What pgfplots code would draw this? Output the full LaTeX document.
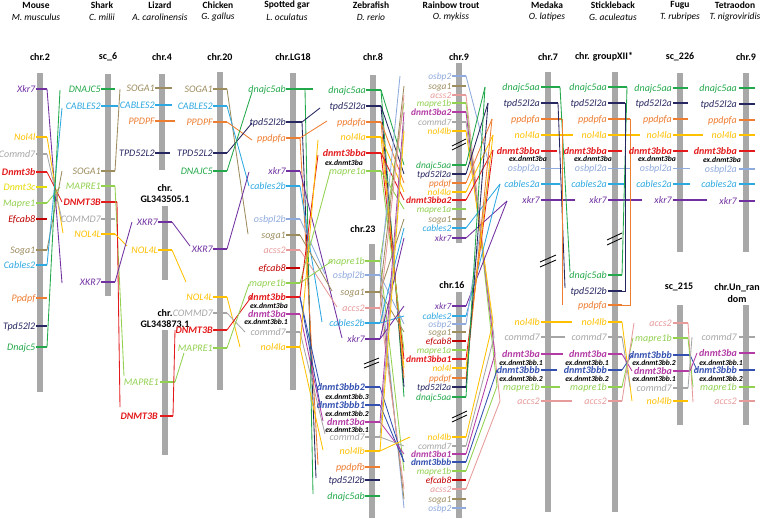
\documentclass[border=0pt]{standalone}
\usepackage{fontspec}
\setmainfont{Carlito}
\usepackage{pgfplots}
\pgfplotsset{compat=1.18}
\definecolor{cXkr}{HTML}{7030A0}
\definecolor{cNol}{HTML}{FFC000}
\definecolor{cCom}{HTML}{A6A6A6}
\definecolor{cDnb}{HTML}{E31A1C}
\definecolor{cDnc}{HTML}{E6DC00}
\definecolor{cMap}{HTML}{92D050}
\definecolor{cEfc}{HTML}{C00000}
\definecolor{cSog}{HTML}{9C8C5E}
\definecolor{cCab}{HTML}{2EA8E0}
\definecolor{cPpd}{HTML}{ED7D31}
\definecolor{cTpd}{HTML}{262660}
\definecolor{cDnj}{HTML}{22A84A}
\definecolor{cOsb}{HTML}{8FAADC}
\definecolor{cAcs}{HTML}{E79A9A}
\definecolor{cDna}{HTML}{B33BA5}
\definecolor{cDnbbb}{HTML}{3350B0}
\definecolor{cBar}{HTML}{A8A8A8}
\newcommand{\gfnt}{\fontsize{10bp}{11bp}\selectfont\itshape}
\newcommand{\gbfnt}{\fontsize{10bp}{11bp}\selectfont\bfseries\itshape}
\newcommand{\tfnt}{\fontsize{9.4bp}{10bp}\selectfont\itshape}
\newcommand{\tbfnt}{\fontsize{9.4bp}{10bp}\selectfont\bfseries\itshape}
\newcommand{\efnt}{\fontsize{7.6bp}{8.5bp}\selectfont\bfseries\itshape}
\newcommand{\hfnt}{\fontsize{9.5bp}{11bp}\selectfont\bfseries}
\newcommand{\spfnt}{\fontsize{9.5bp}{11bp}\selectfont\itshape}
\newcommand{\cfnt}{\fontsize{10bp}{11bp}\selectfont\bfseries}
\pgfplotsset{tk/.style={line width=1.1bp,no markers},cn/.style={line width=0.85bp,no markers}}
\newcommand{\gene}[6]{\addplot[#1,tk] coordinates {(#4,#3) (#5,#3)};
 \node[anchor=base east,inner sep=0pt,yshift=-3.3bp,text=#1,font=\gfnt] at (axis cs:#2,#3) {#6};}
\newcommand{\geneb}[6]{\addplot[#1,tk] coordinates {(#4,#3) (#5,#3)};
 \node[anchor=base east,inner sep=0pt,yshift=-3.3bp,text=#1,font=\gbfnt] at (axis cs:#2,#3) {#6};}
\newcommand{\tgene}[3]{\addplot[#1,tk] coordinates {(452,#2) (466,#2)};
 \node[anchor=base east,inner sep=0pt,yshift=-3.1bp,text=#1,font=\tfnt] at (axis cs:451.5,#2) {#3};}
\newcommand{\tgeneb}[3]{\addplot[#1,tk] coordinates {(452,#2) (466,#2)};
 \node[anchor=base east,inner sep=0pt,yshift=-3.1bp,text=#1,font=\tbfnt] at (axis cs:451.5,#2) {#3};}
\newcommand{\conn}[2]{\addplot[#1,cn] coordinates {#2};}
\newcommand{\exl}[3]{\node[anchor=base east,inner sep=0pt,yshift=-2.6bp,font=\efnt] at (axis cs:#1,#2) {#3};}
\newcommand{\chrbar}[3]{\addplot[cBar,line width=6bp,no markers] coordinates {(#1,#2) (#1,#3)};}
\newcommand{\hdr}[3]{\node[font=\hfnt] at (axis cs:#1,5) {#2}; \node[font=\spfnt] at (axis cs:#1,17) {#3};}
\newcommand{\chrn}[3]{\node[font=\cfnt] at (axis cs:#1,#2) {#3};}
\begin{document}
\begin{tikzpicture}
\begin{axis}[at={(0,0)},anchor=south west,scale only axis,width=760bp,height=518bp,
  xmin=0,xmax=760,ymin=0,ymax=518,y dir=reverse,hide axis,clip=false]
\coordinate (SW) at (axis cs:0,518);
\coordinate (NE) at (axis cs:760,0);
% headers
\hdr{36}{Mouse}{M. musculus}
\hdr{102}{Shark}{C. milii}
\hdr{160}{Lizard}{A. carolinensis}
\hdr{218}{Chicken}{G. gallus}
\hdr{287}{Spotted gar}{L. oculatus}
\hdr{371}{Zebrafish}{D. rerio}
\hdr{451}{Rainbow trout}{O. mykiss}
\hdr{547}{Medaka}{O. latipes}
\hdr{613}{Stickleback}{G. aculeatus}
\hdr{680}{Fugu}{T. rubripes}
\hdr{735}{Tetraodon}{T. nigroviridis}
% chromosome names
\chrn{40}{57}{chr.2}
\chrn{108}{57}{sc\_6}
\chrn{162}{57}{chr.4}
\chrn{220}{57}{chr.20}
\chrn{293}{57}{chr.LG18}
\chrn{373}{57}{chr.8}
\chrn{459}{57}{chr.9}
\chrn{548}{57}{chr.7}
\chrn{604}{57}{chr. groupXII*}
\chrn{680}{57}{sc\_226}
\chrn{746}{57}{chr.9}
\chrn{165}{188}{chr.}
\chrn{165}{199}{GL343505.1}
\chrn{165}{313}{chr.}
\chrn{165}{324}{GL343873.1}
\chrn{363}{229}{chr.23}
\chrn{452}{285}{chr.16}
\chrn{679}{287}{sc\_215}
\chrn{737}{288}{chr.Un\_ran}
\chrn{737}{299}{dom}
% bars
\chrbar{40}{73}{392}
\chrbar{108}{74}{296}
\chrbar{162}{74}{170}
\chrbar{165}{206}{280}
\chrbar{165}{330}{455}
\chrbar{220}{72}{390}
\chrbar{293}{73}{390}
\chrbar{373}{75}{200}
\chrbar{372}{244}{518}
\chrbar{459}{63}{243}
\chrbar{459}{292}{518}
\chrbar{548}{72}{512}
\chrbar{615}{72}{512}
\chrbar{680}{73}{252}
\chrbar{680}{305}{425}
\chrbar{746}{73}{252}
\chrbar{746}{305}{425}
% ===== Mouse
\gene{cXkr}{35.5}{89}{36}{47}{Xkr7}
\gene{cNol}{35.5}{137}{36}{47}{Nol4l}
\gene{cCom}{35.5}{154}{36}{47}{Commd7}
\geneb{cDnb}{35.5}{172}{36}{47}{Dnmt3b}
\gene{cDnc}{35.5}{187}{36}{47}{Dnmt3c}
\gene{cMap}{35.5}{203}{36}{47}{Mapre1}
\gene{cEfc}{35.5}{219}{36}{47}{Efcab8}
\gene{cSog}{35.5}{250}{36}{47}{Soga1}
\gene{cCab}{35.5}{265}{36}{47}{Cables2}
\gene{cPpd}{35.5}{298}{36}{47}{Ppdpf}
\gene{cTpd}{35.5}{326}{36}{47}{Tpd52l2}
\gene{cDnj}{35.5}{347}{36}{47}{Dnajc5}
\conn{cXkr}{(47,89) (62,283)}
\conn{cNol}{(47,137) (63,233)}
\conn{cCom}{(47,154) (62,220)}
\conn{cDnb}{(47,172) (62,202)}
\conn{cMap}{(47,203) (60,187)}
\conn{cSog}{(47,250) (62,171)}
\conn{cCab}{(47,265) (62,108)}
\conn{cDnj}{(47,347) (60,90)}
% ===== Shark
\gene{cDnj}{101}{89}{101}{115}{DNAJC5}
\gene{cCab}{101}{106}{101}{118}{CABLES2}
\gene{cSog}{101}{171}{101}{115}{SOGA1}
\gene{cMap}{101}{186}{101}{115}{MAPRE1}
\geneb{cDnb}{101}{202}{101}{117}{DNMT3B}
\gene{cCom}{101}{219}{101}{115}{COMMD7}
\gene{cNol}{101}{234}{101}{115}{NOL4L}
\gene{cXkr}{101}{282}{101}{115}{XKR7}
\conn{cSog}{(115,171) (120,89)}
\conn{cMap}{(115,186) (124,376)}
\conn{cDnb}{(117,202) (120,407)}
\conn{cNol}{(115,234) (127,246)}
\conn{cXkr}{(115,282) (132,222)}
% ===== Lizard
\gene{cSog}{155}{88}{155}{172}{SOGA1}
\gene{cCab}{155}{105}{155}{172}{CABLES2}
\gene{cPpd}{155}{121}{155}{175}{PPDPF}
\gene{cTpd}{155}{153}{155}{170}{TPD52L2}
\gene{cXkr}{158}{222}{158}{172}{XKR7}
\gene{cNol}{158}{250}{158}{172}{NOL4L}
\conn{cXkr}{(172,222) (190,246)}
\conn{cNol}{(172,250) (186,282)}
\gene{cMap}{159}{382}{160}{175}{MAPRE1}
\geneb{cDnb}{158}{416}{160}{173}{DNMT3B}
\conn{cMap}{(175,382) (184,353)}
\conn{cDnb}{(173,416) (175,330)}
% ===== Chicken
\gene{cSog}{213}{89}{213}{227}{SOGA1}
\gene{cCab}{213}{106}{213}{227}{CABLES2}
\gene{cPpd}{213}{122}{213}{227}{PPDPF}
\gene{cTpd}{213}{153}{213}{227}{TPD52L2}
\gene{cDnj}{213}{171}{213}{227}{DNAJC5}
\gene{cXkr}{213}{249}{213}{227}{XKR7}
\gene{cNol}{213}{297}{213}{227}{NOL4L}
\gene{cCom}{213}{313}{213}{227}{COMMD7}
\geneb{cDnb}{213}{330}{213}{227}{DNMT3B}
\gene{cMap}{213}{348}{213}{227}{MAPRE1}
\conn{cSog}{(227,89) (248,234)}
\conn{cCab}{(227,106) (249,186)}
\conn{cPpd}{(227,122) (252,140)}
\conn{cTpd}{(227,153) (252,123)}
\conn{cDnj}{(227,171) (252,92)}
\conn{cXkr}{(227,249) (249,172)}
\conn{cNol}{(227,297) (240,347)}
\conn{cCom}{(227,313) (245,332)}
\conn{cDnb}{(227,330) (252,296)}
\conn{cMap}{(227,348) (249,284)}
% ===== Spotted gar
\gene{cDnj}{286}{89}{286}{313}{dnajc5ab}
\gene{cTpd}{286}{122}{286}{302}{tpd52l2b}
\gene{cPpd}{286}{138}{286}{300}{ppdpfa}
\gene{cXkr}{286}{171}{286}{300}{xkr7}
\gene{cCab}{286}{186}{286}{300}{cables2b}
\gene{cOsb}{286}{219}{286}{300}{osbpl2b}
\gene{cSog}{286}{235}{286}{300}{soga1}
\gene{cAcs}{286}{250}{286}{300}{acss2}
\gene{cEfc}{286}{268}{286}{300}{efcab8}
\gene{cMap}{286}{283}{286}{300}{mapre1b}
\geneb{cDnb}{286}{297}{286}{300}{dnmt3bb}
\exl{288}{306}{ex.dnmt3ba}
\geneb{cDna}{286}{314}{286}{300}{dnmt3ba}
\exl{288}{322}{ex.dnmt3bb.1}
\gene{cCom}{286}{332}{286}{300}{commd7}
\gene{cNol}{286}{347}{286}{300}{nol4la}
\conn{cDnj}{(305,89) (313,494)}
\conn{cTpd}{(302,122) (320,108)}
\conn{cTpd}{(302,122) (316,478)}
\conn{cPpd}{(300,138) (327,121)}
\conn{cPpd}{(300,138) (318,465)}
\conn{cXkr}{(300,171) (342,338)}
\conn{cCab}{(300,186) (322,322)}
\conn{cOsb}{(300,219) (325,274)}
\conn{cSog}{(300,235) (332,291)}
\conn{cAcs}{(300,250) (337,307)}
\conn{cMap}{(300,283) (330,172)}
\conn{cMap}{(300,283) (332,261)}
\conn{cDnb}{(300,297) (318,155)}
\conn{cDnbbb}{(300,297) (320,386)}
\conn{cDnbbb}{(300,297) (320,404)}
\conn{cDna}{(300,314) (323,421)}
\conn{cCom}{(300,332) (325,434)}
\conn{cNol}{(300,347) (318,140)}
\conn{cNol}{(300,347) (323,450)}
% ===== Zebrafish chr.8
\gene{cDnj}{366}{90}{366}{381}{dnajc5aa}
\gene{cTpd}{366}{106}{366}{381}{tpd52l2a}
\gene{cPpd}{366}{122}{366}{381}{ppdpfa}
\gene{cNol}{366}{137}{366}{381}{nol4la}
\geneb{cDnb}{366}{153}{366}{381}{dnmt3bba}
\exl{363}{163}{ex.dnmt3ba}
\gene{cMap}{366}{171}{366}{381}{mapre1a}
% ===== Zebrafish chr.23
\gene{cMap}{365}{261}{365}{380}{mapre1b}
\gene{cOsb}{365}{275}{365}{380}{osbpl2b}
\gene{cSog}{365}{292}{365}{380}{soga1}
\gene{cAcs}{365}{308}{365}{380}{accs2}
\gene{cCab}{365}{323}{365}{380}{cables2b}
\gene{cXkr}{365}{339}{365}{380}{xkr7}
\geneb{cDnbbb}{365}{387}{365}{380}{dnmt3bbb2}
\exl{369}{397}{ex.dnmt3bb.3}
\geneb{cDnbbb}{365}{405}{365}{380}{dnmt3bbb1}
\exl{369}{414}{ex.dnmt3bb.2}
\geneb{cDna}{365}{422}{365}{380}{dnmt3ba}
\exl{369}{430}{ex.dnmt3bb.1}
\gene{cCom}{365}{437}{365}{380}{commd7}
\gene{cNol}{365}{451}{365}{380}{nol4lb}
\gene{cPpd}{365}{467}{365}{380}{ppdpfb}
\gene{cTpd}{365}{480}{365}{380}{tpd52l2b}
\gene{cDnj}{365}{496}{365}{380}{dnajc5ab}
% zebrafish -> trout
\conn{cDnj}{(381,90) (404,165)}
\conn{cDnj}{(381,90) (404,397)}
\conn{cTpd}{(381,106) (404,174)}
\conn{cTpd}{(381,106) (404,387)}
\conn{cPpd}{(381,122) (404,183)}
\conn{cPpd}{(381,122) (404,378)}
\conn{cNol}{(381,137) (404,192)}
\conn{cNol}{(381,137) (404,368)}
\conn{cDnb}{(381,153) (404,200)}
\conn{cDnb}{(381,153) (404,359)}
\conn{cMap}{(381,171) (404,209)}
\conn{cMap}{(381,171) (404,350)}
\conn{cMap}{(380,261) (404,103)}
\conn{cMap}{(380,261) (404,471)}
\conn{cOsb}{(380,275) (400,76)}
\conn{cOsb}{(380,275) (404,324)}
\conn{cOsb}{(380,275) (404,508)}
\conn{cSog}{(380,292) (404,86)}
\conn{cSog}{(380,292) (404,219)}
\conn{cSog}{(380,292) (404,332)}
\conn{cSog}{(380,292) (404,499)}
\conn{cAcs}{(380,308) (404,95)}
\conn{cAcs}{(380,308) (404,489)}
\conn{cCab}{(380,323) (404,228)}
\conn{cCab}{(380,323) (404,316)}
\conn{cXkr}{(380,339) (404,238)}
\conn{cXkr}{(380,339) (404,306)}
\conn{cDnbbb}{(380,387) (404,462)}
\conn{cDnbbb}{(380,405) (404,462)}
\conn{cDna}{(380,422) (404,112)}
\conn{cDna}{(380,422) (404,454)}
\conn{cCom}{(380,437) (404,122)}
\conn{cCom}{(380,437) (404,446)}
\conn{cNol}{(380,451) (404,131)}
\conn{cNol}{(380,451) (410,437)}
% ===== Trout chr.9
\tgene{cOsb}{76}{osbp2}
\tgene{cSog}{86}{soga1}
\tgene{cAcs}{95}{acss2}
\tgene{cMap}{103}{mapre1b}
\tgeneb{cDna}{112}{dnmt3ba2}
\tgene{cCom}{122}{commd7}
\tgene{cNol}{131}{nol4lb}
\tgene{cDnj}{165}{dnajc5aa}
\tgene{cTpd}{174}{tpd52l2a}
\tgene{cPpd}{183}{ppdpf}
\tgene{cNol}{192}{nol4la}
\tgeneb{cDnb}{200}{dnmt3bba2}
\tgene{cMap}{209}{mapre1a}
\tgene{cSog}{219}{soga1}
\tgene{cCab}{228}{cables2}
\tgene{cXkr}{238}{xkr7}
% ===== Trout chr.16
\tgene{cXkr}{306}{xkr7}
\tgene{cCab}{316}{cables2}
\tgene{cOsb}{324}{osbp2}
\tgene{cSog}{332}{soga1}
\tgene{cEfc}{341}{efcab8}
\tgene{cMap}{350}{mapre1a}
\tgeneb{cDnb}{359}{dnmt3bba1}
\tgene{cNol}{368}{nol4l}
\tgene{cPpd}{378}{ppdpf}
\tgene{cTpd}{387}{tpd52l2a}
\tgene{cDnj}{397}{dnajc5aa}
\tgene{cNol}{437}{nol4lb}
\tgene{cCom}{446}{commd7}
\tgeneb{cDna}{454}{dnmt3ba1}
\tgeneb{cDnbbb}{462}{dnmt3bbb}
\tgene{cMap}{471}{mapre1b}
\tgene{cEfc}{480}{efcab8}
\tgene{cAcs}{489}{acss2}
\tgene{cSog}{499}{soga1}
\tgene{cOsb}{508}{osbp2}
% trout -> medaka
\conn{cOsb}{(466,76) (490,168)}
\conn{cAcs}{(466,95) (500,401)}
\conn{cMap}{(466,103) (497,386)}
\conn{cDna}{(466,112) (495,354)}
\conn{cCom}{(466,122) (494,337)}
\conn{cNol}{(466,131) (493,322)}
\conn{cDnj}{(466,165) (485,87)}
\conn{cTpd}{(466,174) (488,103)}
\conn{cPpd}{(466,183) (492,119)}
\conn{cNol}{(466,192) (493,135)}
\conn{cDnb}{(466,200) (493,150)}
\conn{cCab}{(466,228) (500,184)}
\conn{cXkr}{(466,238) (507,201)}
\conn{cXkr}{(466,306) (507,201)}
\conn{cCab}{(466,316) (500,184)}
\conn{cOsb}{(466,324) (490,168)}
\conn{cDnb}{(466,359) (493,150)}
\conn{cNol}{(466,368) (493,135)}
\conn{cPpd}{(466,378) (492,119)}
\conn{cTpd}{(466,387) (488,103)}
\conn{cDnj}{(466,397) (485,87)}
\conn{cNol}{(466,437) (493,322)}
\conn{cCom}{(466,446) (494,337)}
\conn{cDna}{(466,454) (495,354)}
\conn{cDnbbb}{(466,462) (497,370)}
\conn{cMap}{(466,471) (497,386)}
\conn{cAcs}{(466,489) (500,401)}
% ===== Medaka
\gene{cDnj}{540}{87}{541}{560}{dnajc5aa}
\gene{cTpd}{540}{103}{541}{558}{tpd52l2a}
\gene{cPpd}{540}{119}{541}{562}{ppdpfa}
\gene{cNol}{540}{135}{541}{573}{nol4la}
\geneb{cDnb}{540}{151}{541}{557}{dnmt3bba}
\exl{547}{159.3}{ex.dnmt3ba}
\gene{cOsb}{540}{168.5}{541}{565}{osbpl2a}
\gene{cCab}{540}{184}{541}{560}{cables2a}
\gene{cXkr}{540}{200}{541}{575}{xkr7}
\gene{cNol}{540}{322}{541}{572}{nol4lb}
\gene{cCom}{540}{337}{541}{565}{commd7}
\geneb{cDna}{540}{354}{541}{563}{dnmt3ba}
\exl{543}{362.5}{ex.dnmt3bb.1}
\geneb{cDnbbb}{540}{370}{541}{557}{dnmt3bbb}
\exl{543}{379}{ex.dnmt3bb.2}
\gene{cMap}{540}{387}{541}{560}{mapre1b}
\gene{cAcs}{540}{401}{541}{572}{accs2}
\conn{cDnj}{(560,87) (570,272)}
\conn{cTpd}{(558,103) (565,288)}
\conn{cPpd}{(562,119) (562,305)}
% ===== Stickleback
\gene{cDnj}{607}{87}{608}{627}{dnajc5aa}
\gene{cTpd}{607}{103}{608}{625}{tpd52l2a}
\gene{cPpd}{607}{119}{608}{630}{ppdpfa}
\gene{cNol}{607}{135}{608}{640}{nol4la}
\geneb{cDnb}{607}{151}{608}{622}{dnmt3bba}
\exl{612}{159.3}{ex.dnmt3ba}
\gene{cOsb}{607}{168.5}{608}{630}{osbpl2a}
\gene{cCab}{607}{184}{608}{625}{cables2a}
\gene{cXkr}{607}{200}{608}{642}{xkr7}
\gene{cDnj}{607}{275}{608}{622}{dnajc5ab}
\gene{cTpd}{607}{291}{608}{622}{tpd52l2b}
\gene{cPpd}{607}{305}{608}{622}{ppdpfa}
\gene{cNol}{607}{322}{608}{622}{nol4lb}
\gene{cCom}{607}{337}{608}{622}{commd7}
\geneb{cDna}{607}{354}{608}{622}{dnmt3ba}
\exl{609}{362.5}{ex.dnmt3bb.1}
\geneb{cDnbbb}{607}{370}{608}{622}{dnmt3bbb}
\exl{609}{379}{ex.dnmt3bb.2}
\gene{cMap}{607}{387}{608}{622}{mapre1b}
\gene{cAcs}{607}{401}{608}{622}{accs2}
\conn{cDnj}{(627,87) (622,275)}
\conn{cTpd}{(625,103) (625,291) (622,291)}
\conn{cPpd}{(630,119) (630,305) (622,305)}
\conn{cNol}{(622,322) (632,401)}
\conn{cCom}{(622,337) (630,387)}
\conn{cDna}{(622,354) (632,371)}
\conn{cDnbbb}{(622,370) (632,355)}
\conn{cMap}{(622,387) (633,338)}
\conn{cAcs}{(622,401) (634,323)}
% ===== Fugu
\gene{cDnj}{672}{88}{673}{688}{dnajc5aa}
\gene{cTpd}{672}{103}{673}{688}{tpd52l2a}
\gene{cPpd}{672}{119}{673}{688}{ppdpfa}
\gene{cNol}{672}{135}{673}{703}{nol4la}
\geneb{cDnb}{672}{151}{673}{688}{dnmt3bba}
\exl{676}{159.3}{ex.dnmt3ba}
\gene{cOsb}{672}{168.5}{673}{690}{osbpl2a}
\gene{cCab}{672}{184}{673}{690}{cables2a}
\gene{cXkr}{672}{200}{673}{707}{xkr7}
\gene{cAcs}{672}{323}{673}{688}{accs2}
\gene{cMap}{672}{338}{673}{688}{mapre1b}
\geneb{cDnbbb}{672}{355}{673}{690}{dnmt3bbb}
\exl{676}{363}{ex.dnmt3bb.2}
\geneb{cDna}{672}{371}{673}{690}{dnmt3ba}
\exl{676}{379}{ex.dnmt3bb.1}
\gene{cCom}{672}{388}{673}{688}{commd7}
\gene{cNol}{672}{401}{673}{688}{nol4lb}
\conn{cAcs}{(688,323) (693,402)}
\conn{cMap}{(688,338) (693,387)}
\conn{cDnbbb}{(690,355) (697,370)}
\conn{cDna}{(690,371) (697,353)}
\conn{cCom}{(688,388) (692,337)}
% ===== Tetraodon
\gene{cDnj}{737}{88}{739}{755}{dnajc5aa}
\gene{cTpd}{737}{104}{739}{755}{tpd52l2a}
\gene{cPpd}{737}{120}{739}{755}{ppdpfa}
\gene{cNol}{737}{135}{739}{755}{nol4la}
\geneb{cDnb}{737}{151}{739}{755}{dnmt3bba}
\exl{741}{160}{ex.dnmt3ba}
\gene{cOsb}{737}{169}{739}{755}{osbpl2a}
\gene{cCab}{737}{184}{739}{755}{cables2a}
\gene{cXkr}{737}{201}{739}{755}{xkr7}
\gene{cCom}{737}{337}{739}{755}{commd7}
\geneb{cDna}{737}{353}{739}{755}{dnmt3ba}
\exl{743}{362.5}{ex.dnmt3bb.1}
\geneb{cDnbbb}{737}{370}{739}{755}{dnmt3bbb}
\exl{743}{379}{ex.dnmt3bb.2}
\gene{cMap}{737}{387}{739}{755}{mapre1b}
\gene{cAcs}{737}{401}{739}{755}{accs2}
% ===== breaks
\conn{black}{(452,146) (466,139)}
\conn{black}{(452,150) (466,143)}
\conn{black}{(452,418) (467,411)}
\conn{black}{(452,422) (467,415)}
\conn{black}{(364,364) (379,358)}
\conn{black}{(364,368) (379,362)}
\conn{black}{(540,262) (556,255)}
\conn{black}{(540,267) (556,260)}
\conn{black}{(607,240) (622,233)}
\conn{black}{(607,245) (622,238)}
\end{axis}
\pgfresetboundingbox
\useasboundingbox (SW) rectangle (NE);
\end{tikzpicture}
\end{document}
